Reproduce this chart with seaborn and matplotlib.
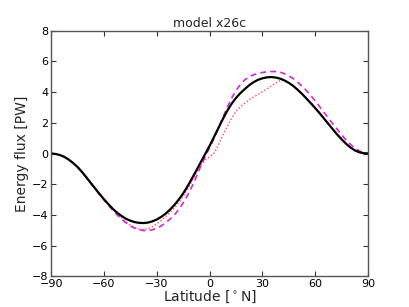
import numpy as np
import pandas as pd
import matplotlib
matplotlib.use("Agg")
import matplotlib.pyplot as plt
import seaborn as sns

sns.set_style("ticks", {"xtick.direction": "in", "ytick.direction": "in"})

# ── Data (every 2.5 degrees) ─────────────────────────────────────────────────
lat = np.arange(-90, 90.1, 2.5)

flux_model = [0.0, -0.03, -0.1, -0.22, -0.4, -0.62, -0.88, -1.2, -1.55, -1.92,
              -2.28, -2.64, -2.98, -3.3, -3.6, -3.86, -4.07, -4.25, -4.38, -4.47,
              -4.52, -4.53, -4.5, -4.42, -4.3, -4.13, -3.92, -3.66, -3.35, -3.0,
              -2.6, -2.13, -1.62, -1.1, -0.56, -0.03, 0.5, 1.08, 1.66, 2.24,
              2.78, 3.24, 3.62, 3.94, 4.2, 4.45, 4.65, 4.8, 4.9, 4.96,
              4.98, 4.95, 4.88, 4.76, 4.6, 4.4, 4.15, 3.88, 3.58, 3.27,
              2.95, 2.62, 2.27, 1.92, 1.57, 1.23, 0.92, 0.63, 0.39, 0.2,
              0.08, 0.02, 0.0]

flux_dashed = [0.0, -0.03, -0.1, -0.22, -0.4, -0.62, -0.88, -1.2, -1.56, -1.93,
               -2.3, -2.66, -3.02, -3.37, -3.7, -4.0, -4.27, -4.52, -4.72, -4.87,
               -4.97, -5.02, -5.02, -4.97, -4.87, -4.72, -4.52, -4.28, -4.0, -3.65,
               -3.22, -2.72, -2.15, -1.5, -0.82, -0.2, 0.38, 0.98, 1.65, 2.35,
               3.0, 3.6, 4.1, 4.5, 4.8, 5.0, 5.13, 5.22, 5.28, 5.32,
               5.34, 5.34, 5.3, 5.2, 5.06, 4.88, 4.65, 4.38, 4.1, 3.77,
               3.42, 3.05, 2.67, 2.3, 1.93, 1.57, 1.22, 0.88, 0.6, 0.35,
               0.17, 0.05, 0.0]

flux_dotted = [0.0, -0.03, -0.1, -0.22, -0.4, -0.62, -0.87, -1.18, -1.52, -1.88,
               -2.25, -2.6, -2.95, -3.3, -3.62, -3.92, -4.18, -4.45, -4.66, -4.82,
               -4.92, -4.96, -4.9, -4.76, -4.58, -4.37, -4.12, -3.85, -3.55, -3.2,
               -2.8, -2.32, -1.8, -1.25, -0.78, -0.42, -0.22, 0.02, 0.55, 1.2,
               1.75, 2.3, 2.75, 3.05, 3.28, 3.5, 3.68, 3.85, 4.02, 4.2,
               4.4, 4.58, 4.75, 4.76, 4.6, 4.41, 4.17, 3.91, 3.62, 3.31,
               2.99, 2.66, 2.31, 1.96, 1.61, 1.27, 0.96, 0.67, 0.42, 0.22,
               0.09, 0.02, 0.0]

xticks = [-90, -60, -30, 0, 30, 60, 90]
yticks = [-8, -6, -4, -2, 0, 2, 4, 6, 8]

df = pd.DataFrame({"lat": lat, "model": flux_model,
                   "dashed": flux_dashed, "dotted": flux_dotted})

# ── Plot ─────────────────────────────────────────────────────────────────────
fig, ax = plt.subplots(figsize=(4.09, 3.07), dpi=100)
fig.subplots_adjust(left=0.125, right=0.9, bottom=0.1, top=0.9)

sns.lineplot(data=df, x="lat", y="dotted", color="#ff4d4d", lw=1.0,
             linestyle=(0, (1, 1.5)), ax=ax)
sns.lineplot(data=df, x="lat", y="dashed", color="#dd22dd", lw=1.2,
             linestyle=(0, (3.5, 2.5)), ax=ax)
sns.lineplot(data=df, x="lat", y="model", color="black", lw=1.6, ax=ax)

ax.set_xlim(-90, 90)
ax.set_ylim(-8, 8)
ax.set_xticks(xticks)
ax.set_yticks(yticks)
ax.tick_params(direction="in", length=3.5, width=0.8, labelsize=8,
               top=True, right=True, pad=2, colors="#333333", labelcolor="black")
for sp in ax.spines.values():
    sp.set_visible(True)
    sp.set_color("#555555")
    sp.set_linewidth(1.0)

ax.set_title("model x26c", fontsize=9, pad=3)
ax.set_xlabel(r"Latitude [$^\circ$N]", fontsize=10, labelpad=0)
ax.set_ylabel("Energy flux [PW]", fontsize=10, labelpad=2)

fig.savefig("out.png", dpi=100)
plt.close()
